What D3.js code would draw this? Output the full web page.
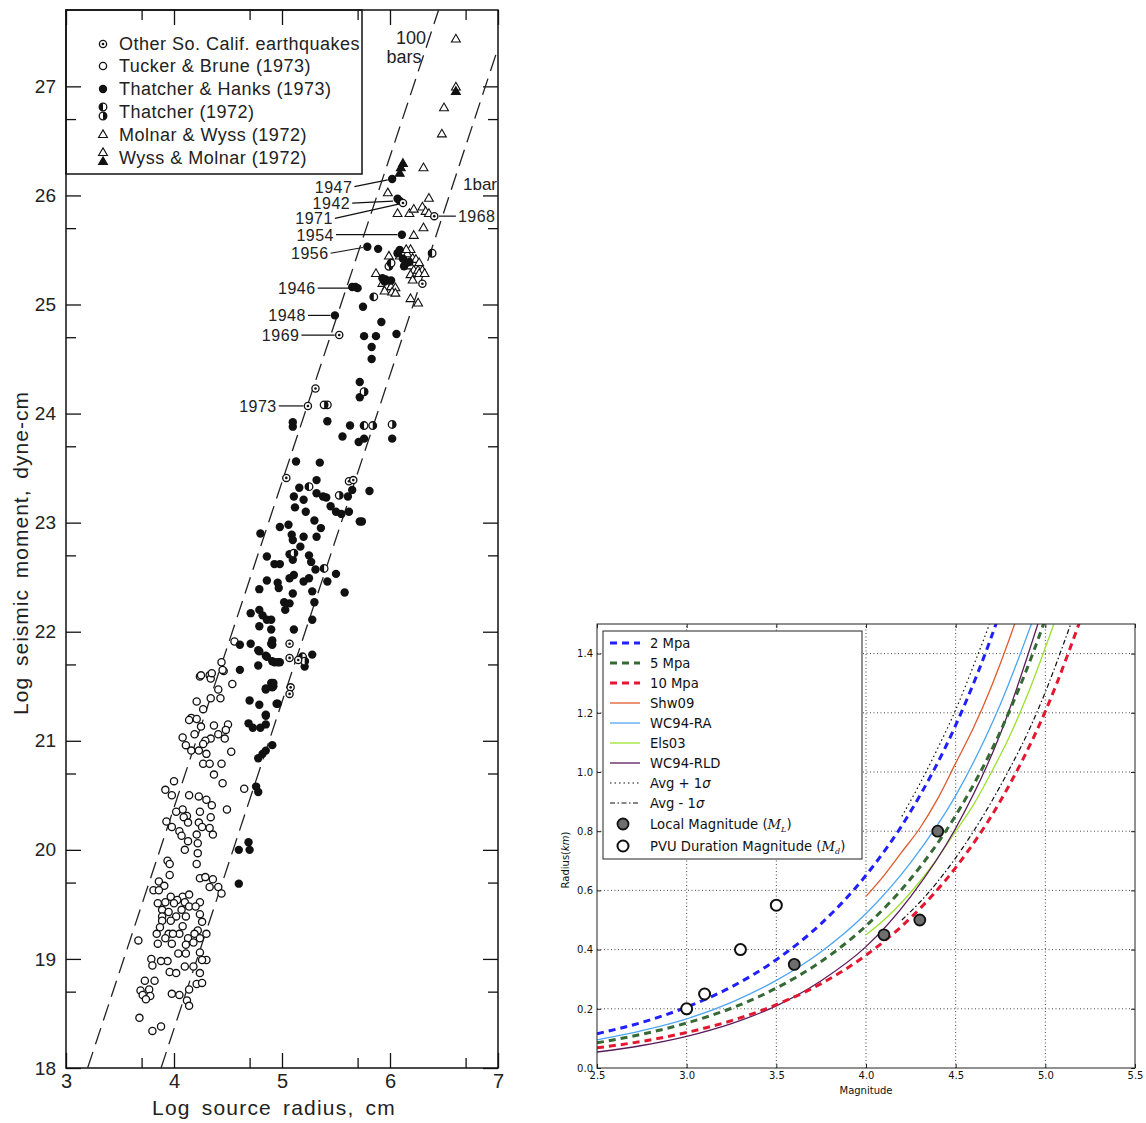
<!DOCTYPE html>
<html><head><meta charset="utf-8">
<script src="https://cdn.jsdelivr.net/npm/d3@7"></script>
<style>
body{margin:0;background:#fff;}
svg{display:block;}
</style></head><body>
<svg id="c" width="1146" height="1123"></svg>
<script>
// ---------------- LEFT CHART DATA ----------------
const xTicksL = [3,4,5,6,7];
const xMinorL = [3.7,4.7,5.7,6.7];
const yTicksL = [18,19,20,21,22,23,24,25,26,27];
const yMinorL = [18.7,19.7,20.7,21.7,22.7,23.7,24.7,25.7,26.7];
const legendL = ["Other So. Calif. earthquakes","Tucker & Brune (1973)","Thatcher & Hanks (1973)","Thatcher (1972)","Molnar & Wyss (1972)","Wyss & Molnar (1972)"];
const bar100 = [[3.2,18.0],[6.45,27.7]];
const bar1 = [[3.88,18.0],[7.0,27.35]];

const tuckerBrune = [[4.56,21.91],[4.44,21.72],[4.46,21.64],[4.24,21.59],[4.33,21.60],[4.34,21.57],[4.54,21.52],[4.41,21.47],[4.34,21.39],[4.43,21.39],[4.21,21.36],[4.27,21.29],[4.16,21.21],[4.21,21.20],[4.14,21.19],[4.25,21.13],[4.37,21.14],[4.50,21.15],[4.48,21.10],[4.41,21.06],[4.19,21.06],[4.08,21.03],[4.11,20.96],[4.34,21.02],[4.29,21.00],[4.27,20.97],[4.47,21.02],[4.53,20.90],[4.16,20.91],[4.23,20.91],[4.30,20.88],[4.27,20.79],[4.33,20.79],[4.44,20.79],[4.37,20.69],[4.45,20.61],[4.00,20.63],[3.92,20.55],[3.98,20.50],[4.65,20.56],[4.14,20.50],[4.23,20.49],[4.30,20.46],[4.35,20.41],[4.08,20.37],[4.02,20.35],[4.24,20.35],[4.49,20.37],[4.12,20.31],[4.09,20.30],[4.34,20.30],[3.93,20.26],[4.23,20.25],[4.13,20.25],[3.98,20.21],[4.26,20.21],[4.33,20.20],[4.05,20.17],[4.21,20.14],[4.07,20.13],[4.36,20.14],[4.13,20.08],[4.22,20.06],[4.10,20.00],[4.22,19.97],[3.94,19.90],[3.96,19.87],[4.21,19.87],[3.96,19.77],[4.24,19.74],[4.29,19.75],[4.36,19.73],[4.41,19.66],[4.33,19.66],[3.86,19.71],[3.91,19.67],[3.81,19.63],[3.86,19.63],[4.44,19.60],[3.97,19.57],[4.08,19.57],[4.14,19.59],[4.03,19.54],[4.10,19.52],[4.24,19.52],[3.92,19.52],[4.00,19.51],[3.85,19.51],[4.14,19.48],[4.20,19.48],[4.07,19.45],[3.89,19.45],[3.95,19.43],[4.24,19.41],[3.89,19.39],[4.02,19.39],[4.11,19.39],[3.97,19.35],[3.89,19.35],[4.26,19.34],[4.08,19.30],[3.87,19.29],[4.22,19.26],[3.84,19.23],[3.95,19.23],[4.05,19.23],[3.99,19.23],[4.19,19.23],[4.30,19.23],[3.92,19.19],[4.13,19.19],[4.24,19.19],[3.85,19.14],[3.98,19.14],[4.11,19.13],[4.18,19.15],[3.67,19.17],[4.24,19.06],[4.04,19.05],[4.11,19.05],[3.94,18.98],[3.79,19.00],[3.88,18.98],[4.30,18.99],[4.26,18.99],[3.80,18.94],[4.10,18.93],[4.18,18.93],[3.96,18.88],[4.02,18.87],[4.24,18.87],[3.73,18.80],[3.82,18.80],[3.69,18.71],[3.77,18.72],[3.71,18.67],[3.78,18.66],[3.74,18.63],[3.98,18.68],[4.05,18.67],[4.14,18.72],[4.12,18.62],[4.21,18.77],[4.26,18.78],[4.14,18.57],[3.68,18.46],[3.80,18.34],[3.88,18.38],[4.45,21.65],[4.35,21.62],[4.25,21.60]];

const thatcherHanks = [[4.61,21.65],[4.78,21.69],[4.85,21.78],[4.91,21.73],[4.96,21.72],[4.79,21.82],[4.61,21.88],[4.71,21.89],[4.90,21.89],[4.90,21.53],[4.85,21.47],[4.91,21.49],[4.70,21.37],[4.79,21.33],[4.85,21.23],[4.96,21.34],[4.69,21.16],[4.73,21.12],[4.80,21.12],[4.85,21.15],[4.91,20.96],[4.85,20.91],[4.82,20.88],[4.78,20.84],[4.76,20.58],[4.78,20.53],[4.60,20.00],[4.69,20.07],[4.70,20.00],[4.60,19.69],
[5.10,23.92],[5.10,23.88],[5.42,23.93],[5.63,23.89],[5.56,23.79],[5.71,23.74],[5.76,23.77],[6.02,23.77],[5.13,23.56],[5.35,23.55],[5.32,23.39],[5.16,23.32],[5.11,23.24],[5.20,23.21],[5.32,23.27],[5.38,23.24],[5.41,23.23],[5.12,23.14],[5.22,23.10],[5.45,23.15],[5.50,23.10],[5.55,23.08],[5.62,23.10],[5.61,23.24],[5.65,23.30],[5.81,23.29],[5.72,23.01],[5.74,23.01],[5.30,23.02],[5.06,22.98],[4.98,22.96],[4.80,22.90],[5.36,22.95],[5.32,22.87],[5.09,22.89],[5.10,22.84],[5.20,22.87],[5.17,22.78],[5.25,22.70],[5.27,22.64],[5.31,22.57],[5.07,22.71],[5.10,22.66],[4.86,22.69],[4.93,22.62],[4.98,22.62],[4.86,22.47],[4.96,22.45],[4.97,22.40],[5.07,22.49],[5.11,22.52],[5.20,22.46],[5.25,22.49],[5.50,22.53],[5.42,22.46],[5.28,22.37],[5.30,22.27],[5.10,22.35],[5.02,22.27],[5.03,22.20],[5.07,22.26],[4.79,22.39],[4.71,22.17],[4.79,22.20],[4.82,22.15],[4.86,22.11],[4.90,22.11],[4.79,22.05],[4.90,22.02],[4.91,21.92],[4.91,21.88],[5.28,22.11],[5.11,22.02],[4.78,21.83],[4.86,21.77],[4.93,21.72],[4.98,21.72],[5.28,21.79],[5.21,21.68],[5.58,22.36],[4.85,21.48],[4.92,21.50],[4.92,21.53],[4.95,21.34],[4.85,21.24],
[6.02,26.15],[6.07,25.97],[6.09,25.95],[6.11,25.64],[5.79,25.53],[5.89,25.51],[6.09,25.50],[6.07,25.47],[6.12,25.42],[6.15,25.38],[6.18,25.39],[6.13,25.35],[5.93,25.24],[5.95,25.21],[5.96,25.23],[6.01,25.22],[5.70,25.15],[5.65,25.16],[5.68,25.16],[5.75,24.98],[5.92,24.84],[5.49,24.90],[6.06,24.73],[5.76,24.71],[5.87,24.71],[5.83,24.61],[5.83,24.50],[5.72,24.29],[5.72,24.15]];

const otherSoCal = [[5.53,24.72],[5.24,24.07],[6.12,25.93],[6.41,25.81],[5.62,23.38],[5.66,23.39],[5.07,21.89],[5.08,21.49],[5.07,21.43],[6.30,25.19],[5.04,23.41],[5.31,24.23],[5.07,21.76],[5.15,21.74]];
const thatcher1972 = [[5.42,24.08],[5.39,24.08],[5.85,25.07],[5.99,25.35],[6.01,25.38],[5.76,24.20],[5.25,23.33],[5.11,22.72],[5.39,22.58],[5.84,23.89],[5.76,23.89],[6.02,23.90],[6.39,25.47],[5.53,23.25],[5.19,21.77],[5.21,21.73]];
const molnarWyss = [[6.61,27.43],[6.61,26.99],[6.50,26.80],[6.48,26.56],[6.31,26.25],[5.98,26.02],[6.36,25.97],[6.07,25.83],[6.18,25.83],[6.22,25.87],[6.30,25.89],[6.33,25.85],[6.36,25.83],[6.31,25.70],[6.22,25.63],[6.19,25.50],[6.16,25.46],[6.21,25.42],[6.24,25.41],[6.27,25.38],[6.19,25.35],[6.22,25.31],[6.26,25.31],[6.30,25.31],[6.19,25.27],[6.27,25.28],[6.32,25.28],[6.21,25.22],[5.87,25.28],[5.93,25.19],[5.97,25.16],[6.01,25.16],[6.05,25.15],[5.95,25.12],[6.02,25.11],[6.05,25.10],[6.19,25.05],[6.26,25.01],[5.99,25.44],[6.09,25.44],[6.15,25.50]];
const wyssMolnar = [[6.12,26.29],[6.10,26.25],[6.09,26.20],[6.61,26.95]];

const yearNotes = [
 {year:"1947", px:6.02, py:26.15, lx:5.67, ly:26.08, side:"left"},
 {year:"1942", px:6.07, py:25.95, lx:5.65, ly:25.93, side:"left"},
 {year:"1971", px:6.12, py:25.93, lx:5.49, ly:25.79, side:"left"},
 {year:"1954", px:6.11, py:25.64, lx:5.50, ly:25.64, side:"left"},
 {year:"1956", px:5.79, py:25.53, lx:5.45, ly:25.47, side:"left"},
 {year:"1946", px:5.67, py:25.15, lx:5.33, ly:25.15, side:"left"},
 {year:"1948", px:5.49, py:24.90, lx:5.24, ly:24.90, side:"left"},
 {year:"1969", px:5.53, py:24.72, lx:5.18, ly:24.72, side:"left"},
 {year:"1973", px:5.24, py:24.07, lx:4.97, ly:24.07, side:"left"},
 {year:"1968", px:6.41, py:25.81, lx:6.61, ly:25.81, side:"right"}
];

// ---------------- RIGHT CHART DATA ----------------
const xTicksR = [2.5,3.0,3.5,4.0,4.5,5.0,5.5];
const yTicksR = [0.0,0.2,0.4,0.6,0.8,1.0,1.2,1.4];
const magGrid = [2.5,2.75,3.0,3.25,3.5,3.75,4.0,4.25,4.5,4.75,5.0,5.25];
const stress2 = [0.116,0.154,0.206,0.274,0.366,0.488,0.651,0.868,1.158,1.545,2.06];
const stress5 = [0.085,0.114,0.152,0.202,0.270,0.360,0.480,0.640,0.853,1.138,1.518,2.02];
const stress10 = [0.068,0.090,0.120,0.160,0.214,0.285,0.381,0.508,0.677,0.903,1.205,1.607];
const wc94ra = [0.095,0.126,0.166,0.222,0.296,0.393,0.522,0.695,0.920,1.230,1.630];
const wc94rld = [0.054,0.076,0.107,0.150,0.210,0.295,0.410,0.580,0.810,1.130,1.580];
const magFine = [4.0,4.1,4.2,4.3,4.4,4.5,4.6,4.7,4.8,4.9,5.0,5.1,5.2];
const shw09 = [0.58,0.65,0.73,0.81,0.91,1.03,1.15,1.29,1.45,1.63];
const els03 = [0.45,0.50,0.56,0.63,0.71,0.80,0.89,1.00,1.12,1.26,1.42,1.59];
const magAvg = [4.2,4.3,4.4,4.5,4.6,4.7,4.8,4.9,5.0,5.1,5.2];
const avgPlus = [0.85,0.96,1.08,1.21,1.36,1.52,1.71];
const avgMinus = [0.50,0.56,0.63,0.71,0.80,0.90,1.01,1.13,1.27,1.43,1.60];
const localMag = [[3.6,0.35],[4.1,0.45],[4.3,0.50],[4.4,0.80]];
const pvuMag = [[3.0,0.20],[3.1,0.25],[3.3,0.40],[3.5,0.55]];

// ---------------- DRAW ----------------
const svg = d3.select("#c");
const FL = "'Liberation Sans', Arial, sans-serif";
const FR = "'DejaVu Sans', sans-serif";

// ===== Left chart =====
const xL = d3.scaleLinear().domain([3,7]).range([66,498]);
const yL = d3.scaleLinear().domain([18,27.7]).range([1068,10]);
const L = svg.append("g").attr("font-family", FL);

function styleAxis(g, fs){
  g.select(".domain").remove();
  g.selectAll(".tick line").attr("stroke","#111").attr("stroke-width",1.3);
  g.selectAll(".tick text").attr("font-size",fs).attr("fill","#222").attr("font-family",FL);
}
L.append("g").attr("transform","translate(0,1068)")
  .call(d3.axisBottom(xL).tickValues(xTicksL).tickSize(-15).tickPadding(6).tickFormat(d3.format("d")))
  .call(g=>styleAxis(g,20));
L.append("g").attr("transform","translate(0,1068)")
  .call(d3.axisBottom(xL).tickValues(xMinorL).tickSize(-10).tickFormat(""))
  .call(g=>styleAxis(g,20));
L.append("g").attr("transform","translate(0,10)")
  .call(d3.axisTop(xL).tickValues(xTicksL).tickSize(-15).tickFormat(""))
  .call(g=>styleAxis(g,20));
L.append("g").attr("transform","translate(0,10)")
  .call(d3.axisTop(xL).tickValues(xMinorL).tickSize(-10).tickFormat(""))
  .call(g=>styleAxis(g,20));
L.append("g").attr("transform","translate(66,0)")
  .call(d3.axisLeft(yL).tickValues(yTicksL).tickSize(-15).tickPadding(10).tickFormat(d3.format("d")))
  .call(g=>styleAxis(g,19));
L.append("g").attr("transform","translate(66,0)")
  .call(d3.axisLeft(yL).tickValues(yMinorL).tickSize(-10).tickFormat(""))
  .call(g=>styleAxis(g,19));
L.append("g").attr("transform","translate(498,0)")
  .call(d3.axisRight(yL).tickValues(yTicksL).tickSize(-15).tickFormat(""))
  .call(g=>styleAxis(g,19));
L.append("g").attr("transform","translate(498,0)")
  .call(d3.axisRight(yL).tickValues(yMinorL).tickSize(-10).tickFormat(""))
  .call(g=>styleAxis(g,19));
L.append("rect").attr("x",xL(3)).attr("y",yL(27.7)).attr("width",xL(7)-xL(3)).attr("height",yL(18)-yL(27.7))
  .attr("fill","none").attr("stroke","#111").attr("stroke-width",1.5);

L.append("text").attr("x",(xL(3)+xL(7))/2-8).attr("y",1115).attr("text-anchor","middle")
  .attr("font-size",21).attr("letter-spacing",1.2).attr("word-spacing",4).attr("fill","#222").text("Log source radius, cm");
L.append("text").attr("transform",`translate(28,${(yL(18)+yL(27.7))/2+14}) rotate(-90)`).attr("text-anchor","middle")
  .attr("font-size",21).attr("letter-spacing",1).attr("word-spacing",4).attr("fill","#222").text("Log seismic moment, dyne-cm");

// stress lines
const lineL = d3.line().x(d=>xL(d[0])).y(d=>yL(d[1]));
[bar100,bar1].forEach(b=>{
  L.append("path").attr("d",lineL(b)).attr("fill","none").attr("stroke","#222")
   .attr("stroke-width",1.3).attr("stroke-dasharray","17,8");
});
L.append("text").attr("x",411).attr("y",44).attr("text-anchor","middle").attr("font-size",18).attr("fill","#222").text("100");
L.append("text").attr("x",404).attr("y",63).attr("text-anchor","middle").attr("font-size",18).attr("fill","#222").text("bars");
L.append("text").attr("x",463).attr("y",190).attr("font-size",17).attr("fill","#222").text("1bar");

// markers
function mOpen(g,x,y){ g.append("circle").attr("cx",x).attr("cy",y).attr("r",3.6).attr("fill","#fff").attr("stroke","#111").attr("stroke-width",1.3); }
function mFilled(g,x,y){ g.append("circle").attr("cx",x).attr("cy",y).attr("r",4.2).attr("fill","#111"); }
function mOther(g,x,y){ mOpen(g,x,y); g.append("circle").attr("cx",x).attr("cy",y).attr("r",1.3).attr("fill","#111"); }
function mHalf(g,x,y,flip){ const r=3.8;
  g.append("circle").attr("cx",x).attr("cy",y).attr("r",r).attr("fill","#fff").attr("stroke","#111").attr("stroke-width",1.3);
  g.append("path").attr("d",`M${x},${y-r} A${r},${r} 0 0 ${flip?1:0} ${x},${y+r} Z`).attr("fill","#111"); }
const triSym = d3.symbol().type(d3.symbolTriangle).size(34);
function mTri(g,x,y,filled){ g.append("path").attr("d",triSym()).attr("transform",`translate(${x},${y})`)
  .attr("fill",filled?"#111":"#fff").attr("stroke","#111").attr("stroke-width",1.1); }

const P = L.append("g");
tuckerBrune.forEach(d=>mOpen(P,xL(d[0]),yL(d[1])));
molnarWyss.forEach(d=>mTri(P,xL(d[0]),yL(d[1]),false));
thatcherHanks.forEach(d=>mFilled(P,xL(d[0]),yL(d[1])));
thatcher1972.forEach((d,i)=>mHalf(P,xL(d[0]),yL(d[1]),i%2));
otherSoCal.forEach(d=>mOther(P,xL(d[0]),yL(d[1])));
wyssMolnar.forEach(d=>mTri(P,xL(d[0]),yL(d[1]),true));

// year annotations
yearNotes.forEach(n=>{
  const px=xL(n.px), py=yL(n.py), lx=xL(n.lx), ly=yL(n.ly);
  const dx=px-lx, dy=py-ly, len=Math.hypot(dx,dy);
  const ex=px-dx/len*4.5, ey=py-dy/len*4.5;
  L.append("line").attr("x1",lx).attr("y1",ly).attr("x2",ex).attr("y2",ey).attr("stroke","#111").attr("stroke-width",1.2);
  L.append("text").attr("x",n.side==="left"?lx-2:lx+2).attr("y",ly+6)
   .attr("text-anchor",n.side==="left"?"end":"start").attr("font-size",16).attr("letter-spacing",0.5).attr("fill","#222").text(n.year);
});

// legend left
L.append("rect").attr("x",66).attr("y",10).attr("width",296).attr("height",164).attr("fill","none").attr("stroke","#111").attr("stroke-width",1.5);
const legY = [44,66,89,112,135,158];
legendL.forEach((t,i)=>{
  const y=legY[i], x=103;
  if(i===0) mOther(L,x,y);
  if(i===1) mOpen(L,x,y);
  if(i===2) mFilled(L,x,y);
  if(i===3){ mHalf(L,x,y-5,false); mHalf(L,x,y+4,true); }
  if(i===4) mTri(L,x,y,false);
  if(i===5){ mTri(L,x,y-5,false); mTri(L,x,y+4,true); }
  L.append("text").attr("x",119).attr("y",y+6).attr("font-size",18).attr("letter-spacing",0.5).attr("fill","#222").text(t);
});

// ===== Right chart =====
const xR = d3.scaleLinear().domain([2.5,5.5]).range([597,1135]);
const yR = d3.scaleLinear().domain([0,1.5]).range([1068,624]);
const R = svg.append("g").attr("font-family", FR);

R.append("defs").append("clipPath").attr("id","clipR").append("rect")
  .attr("x",xR(2.5)).attr("y",yR(1.5)).attr("width",xR(5.5)-xR(2.5)).attr("height",yR(0)-yR(1.5));

// grid
R.append("g").selectAll("line").data(xTicksR.slice(1,-1)).join("line")
  .attr("x1",d=>xR(d)).attr("x2",d=>xR(d)).attr("y1",yR(0)).attr("y2",yR(1.5))
  .attr("stroke","#333").attr("stroke-width",0.9).attr("stroke-dasharray","1,2.5");
R.append("g").selectAll("line").data(yTicksR.slice(1)).join("line")
  .attr("x1",xR(2.5)).attr("x2",xR(5.5)).attr("y1",d=>yR(d)).attr("y2",d=>yR(d))
  .attr("stroke","#333").attr("stroke-width",0.9).attr("stroke-dasharray","1,2.5");

// axes
function styleR(g){ g.select(".domain").remove(); g.selectAll(".tick line").attr("stroke","#222");
  g.selectAll(".tick text").attr("font-size",10).attr("fill","#111").attr("font-family",FR); }
const fmt1 = d3.format(".1f");
R.append("g").attr("transform",`translate(0,${yR(0)})`).call(d3.axisBottom(xR).tickValues(xTicksR).tickSize(-4).tickPadding(4).tickFormat(fmt1)).call(styleR);
R.append("g").attr("transform",`translate(0,${yR(1.5)})`).call(d3.axisTop(xR).tickValues(xTicksR).tickSize(-4).tickFormat("")).call(styleR);
R.append("g").attr("transform",`translate(${xR(2.5)},0)`).call(d3.axisLeft(yR).tickValues(yTicksR).tickSize(-4).tickPadding(4).tickFormat(fmt1)).call(styleR);
R.append("g").attr("transform",`translate(${xR(5.5)},0)`).call(d3.axisRight(yR).tickValues(yTicksR).tickSize(-4).tickFormat("")).call(styleR);

R.append("text").attr("x",(xR(2.5)+xR(5.5))/2).attr("y",1094).attr("text-anchor","middle").attr("font-size",10).attr("fill","#111").text("Magnitude");
const yl = R.append("text").attr("transform",`translate(569,860) rotate(-90)`).attr("text-anchor","middle").attr("font-size",10).attr("fill","#111");
yl.append("tspan").text("Radius(");
yl.append("tspan").attr("font-style","italic").text("km");
yl.append("tspan").text(")");

// curves
const lineR = d3.line().x(d=>xR(d[0])).y(d=>yR(d[1])).curve(d3.curveMonotoneX);
const pair = (xs,ys)=>ys.map((v,i)=>[xs[i],v]);
const series = [
  {name:"2 Mpa", data:pair(magGrid,stress2), color:"#1f1fff", w:3, dash:"7,5"},
  {name:"5 Mpa", data:pair(magGrid,stress5), color:"#356a35", w:3, dash:"7,5"},
  {name:"10 Mpa", data:pair(magGrid,stress10), color:"#e3172f", w:3, dash:"7,5"},
  {name:"Shw09", data:pair(magFine,shw09), color:"#e05a2b", w:1.3, dash:null},
  {name:"WC94-RA", data:pair(magGrid,wc94ra), color:"#4ea6f2", w:1.3, dash:null},
  {name:"Els03", data:pair(magFine,els03), color:"#9be22e", w:1.3, dash:null},
  {name:"WC94-RLD", data:pair(magGrid,wc94rld), color:"#5a1b5c", w:1.3, dash:null},
  {name:"Avg + 1σ", data:pair(magAvg,avgPlus), color:"#111", w:1.2, dash:"1.5,3"},
  {name:"Avg - 1σ", data:pair(magAvg,avgMinus), color:"#111", w:1.2, dash:"5,2.5,1.5,2.5"}
];
const C = R.append("g").attr("clip-path","url(#clipR)");
[3,4,5,6,7,8,0,1,2].forEach(i=>{
  const s=series[i];
  C.append("path").attr("d",lineR(s.data)).attr("fill","none").attr("stroke",s.color)
   .attr("stroke-width",s.w).attr("stroke-dasharray",s.dash);
});
pvuMag.forEach(d=>C.append("circle").attr("cx",xR(d[0])).attr("cy",yR(d[1])).attr("r",5.5).attr("fill","#fff").attr("stroke","#111").attr("stroke-width",2));
localMag.forEach(d=>C.append("circle").attr("cx",xR(d[0])).attr("cy",yR(d[1])).attr("r",5.5).attr("fill","#6e6e6e").attr("stroke","#111").attr("stroke-width",1.8));

R.append("rect").attr("x",xR(2.5)).attr("y",yR(1.5)).attr("width",xR(5.5)-xR(2.5)).attr("height",yR(0)-yR(1.5))
  .attr("fill","none").attr("stroke","#222").attr("stroke-width",1);

// legend right
const LG = R.append("g");
LG.append("rect").attr("x",603).attr("y",631).attr("width",259).attr("height",228).attr("fill","#fff").attr("stroke","#222").attr("stroke-width",1);
const legRowY = [643,663,683,703,723,743,763,783,803,824,846];
series.forEach((s,i)=>{
  const y=legRowY[i];
  LG.append("line").attr("x1",610).attr("x2",640).attr("y1",y).attr("y2",y).attr("stroke",s.color)
    .attr("stroke-width",s.w).attr("stroke-dasharray",s.dash);
  const t=LG.append("text").attr("x",650).attr("y",y+4.5).attr("font-size",13.2).attr("fill","#111");
  if(s.name.includes("σ")){ t.append("tspan").text(s.name.replace("σ","")); t.append("tspan").attr("font-style","italic").text("σ"); }
  else t.text(s.name);
});
LG.append("circle").attr("cx",623).attr("cy",legRowY[9]).attr("r",5.5).attr("fill","#6e6e6e").attr("stroke","#111").attr("stroke-width",1.8);
LG.append("circle").attr("cx",623).attr("cy",legRowY[10]).attr("r",5.5).attr("fill","#fff").attr("stroke","#111").attr("stroke-width",2);
function magLabel(y,base,sub){
  const t=LG.append("text").attr("x",650).attr("y",y+4.5).attr("font-size",13.2).attr("fill","#111");
  t.append("tspan").text(base+" (");
  t.append("tspan").attr("font-style","italic").attr("font-family","'DejaVu Serif',serif").text("M");
  t.append("tspan").attr("font-style","italic").attr("font-family","'DejaVu Serif',serif").attr("font-size",8).attr("dy",3).text(sub);
  t.append("tspan").attr("dy",-3).text(")");
}
magLabel(legRowY[9],"Local Magnitude","L");
magLabel(legRowY[10],"PVU Duration Magnitude","d");
</script>
</body></html>
